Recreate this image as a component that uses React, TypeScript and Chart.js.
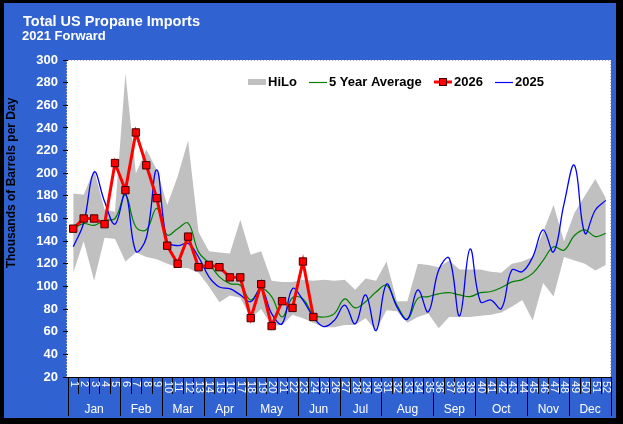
import React, { useEffect, useRef } from 'react';
import { Chart, registerables } from 'chart.js';

Chart.register(...registerables);

// Week numbers along the category axis
const WEEKS = [
  '1', '2', '3', '4', '5', '6', '7', '8', '9', '10', '11', '12', '13',
  '14', '15', '16', '17', '18', '19', '20', '21', '22', '23', '24', '25', '26',
  '27', '28', '29', '30', '31', '32', '33', '34', '35', '36', '37', '38', '39',
  '40', '41', '42', '43', '44', '45', '46', '47', '48', '49', '50', '51', '52',
];

// Month groups beneath the week numbers
const MONTHS = ['Jan', 'Feb', 'Mar', 'Apr', 'May', 'Jun', 'Jul', 'Aug', 'Sep', 'Oct', 'Nov', 'Dec'];
const WEEKS_PER_MONTH = [5, 4, 4, 4, 5, 4, 4, 5, 4, 5, 4, 4];

// Y axis range (thousands of barrels per day)
const Y_MIN = 20;
const Y_MAX = 300;
const Y_STEP = 20;

// 2021-forward weekly high / low range
const HILO_HIGH = [
  182, 181, 203, 168, 166, 288, 200, 221, 203, 172, 197, 229,
  148, 131, 130, 129, 159, 128, 131, 105, 104, 104, 106, 105,
  106, 105, 106, 97, 107, 105, 122, 87, 87, 120, 119, 117,
  123, 115, 115, 115, 113, 112, 120, 122, 126, 148, 172, 140,
  165, 180, 195, 178,
];
const HILO_LOW = [
  112, 140, 105, 143, 142, 122, 130, 126, 124, 120, 117, 116,
  112, 100, 86, 92, 90, 72, 80, 65, 66, 75, 72, 68,
  64, 64, 66, 66, 72, 61, 79, 78, 68, 73, 76, 63,
  73, 73, 73, 74, 75, 77, 82, 88, 70, 103, 91, 126,
  123, 120, 114, 119,
];

// 5 year weekly average
const AVG_5YR = [
  151, 155.5, 154, 158.5, 160, 180.5, 152.5, 150, 169, 145.5, 151, 156,
  130.5, 120.5, 108.5, 102.5, 101, 88, 98, 91, 73, 90, 89, 75,
  73, 76, 89, 81, 86.5, 95, 101, 83.5, 71, 89.5, 91, 93.5,
  94.5, 92.5, 91, 94.5, 95.5, 99, 104, 106, 111.5, 123, 135, 132,
  145, 150, 144, 147,
];

// 2026 weekly imports (year to date)
const IMPORTS_2026 = [
  151, 160, 160, 155, 209, 185, 236, 207, 178, 136, 120, 144,
  117, 119, 117, 108, 108, 72, 102, 65, 87, 81, 122, 73,
];

// 2025 weekly imports
const IMPORTS_2025 = [
  135, 156, 201, 175, 155, 182, 131, 143, 203, 140, 136, 138,
  126, 108.5, 99.5, 98, 92.5, 86.5, 98, 76, 67, 98, 88, 73,
  64.5, 70, 83.5, 67, 92.5, 61, 102, 82, 71, 97, 77.5, 114.5,
  125, 74, 133, 86.5, 88, 80.5, 114.5, 113, 126, 150, 130.5, 173,
  207, 147, 167.5, 176,
];

const FONT = '"Liberation Sans", Arial, Helvetica, sans-serif';
const PANEL_BLUE = 'rgb(48, 98, 210)';
const HILO_GREY = 'rgb(192, 192, 192)';
const AVG_GREEN = '#008000';
const RED = '#FF0000';
const BLUE = '#0000FF';

const W = 623;
const H = 424;

const panelPlugin = {
  id: 'panel',
  beforeDraw(chart: any) {
    const { ctx, chartArea: a } = chart;
    ctx.save();
    ctx.fillStyle = '#000';
    ctx.fillRect(0, 0, W, H);
    ctx.fillStyle = PANEL_BLUE;
    ctx.fillRect(4, 3, 612, 415);
    ctx.fillStyle = '#fff';
    ctx.fillRect(a.left - 1, a.top, a.right - a.left + 1, a.bottom - a.top);
    // faint dotted frame of the plot area
    ctx.strokeStyle = '#c8b6c8';
    ctx.lineWidth = 1;
    ctx.setLineDash([1, 2]);
    ctx.beginPath();
    ctx.moveTo(a.left - 1.5, a.bottom);
    ctx.lineTo(a.left - 1.5, a.top + 0.5);
    ctx.lineTo(a.right - 0.5, a.top + 0.5);
    ctx.lineTo(a.right - 0.5, a.bottom);
    ctx.stroke();
    ctx.restore();
  },
  afterDraw(chart: any) {
    const { ctx, chartArea: a } = chart;
    const xs = chart.scales.x;
    ctx.save();

    // Titles
    ctx.fillStyle = '#fff';
    ctx.textAlign = 'left';
    ctx.textBaseline = 'alphabetic';
    ctx.font = `bold 14.5px ${FONT}`;
    ctx.fillText('Total US Propane Imports', 23, 26);
    ctx.font = `bold 13px ${FONT}`;
    ctx.fillText('2021 Forward', 22, 40);

    // Y axis title
    ctx.save();
    ctx.translate(12, 183);
    ctx.rotate(-Math.PI / 2);
    ctx.fillStyle = '#000';
    ctx.font = `bold 12px ${FONT}`;
    ctx.textAlign = 'center';
    ctx.textBaseline = 'middle';
    ctx.fillText('Thousands of Barrels per Day', 0, 0);
    ctx.restore();

    // Legend inside the plot
    const ly = 82;
    ctx.font = `bold 13px ${FONT}`;
    ctx.textBaseline = 'middle';
    ctx.fillStyle = '#000';
    ctx.fillStyle = HILO_GREY;
    ctx.fillRect(248, ly - 3, 18, 6);
    ctx.fillStyle = '#000';
    ctx.fillText('HiLo', 268, ly);

    ctx.strokeStyle = AVG_GREEN;
    ctx.lineWidth = 1.2;
    ctx.beginPath();
    ctx.moveTo(309, ly + 0.5);
    ctx.lineTo(327, ly + 0.5);
    ctx.stroke();
    ctx.fillText('5 Year Average', 329, ly);

    ctx.strokeStyle = RED;
    ctx.lineWidth = 3;
    ctx.beginPath();
    ctx.moveTo(434, ly);
    ctx.lineTo(452, ly);
    ctx.stroke();
    ctx.fillStyle = RED;
    ctx.fillRect(440, ly - 3, 6, 6);
    ctx.strokeStyle = '#400000';
    ctx.lineWidth = 1;
    ctx.strokeRect(439.5, ly - 3.5, 7, 7);
    ctx.fillStyle = '#000';
    ctx.fillText('2026', 454, ly);

    ctx.strokeStyle = BLUE;
    ctx.lineWidth = 1.2;
    ctx.beginPath();
    ctx.moveTo(495, ly + 0.5);
    ctx.lineTo(513, ly + 0.5);
    ctx.stroke();
    ctx.fillText('2025', 515, ly);

    // Category axis: week separators, week numbers and month groups
    const n = WEEKS.length;
    const band = (a.right - a.left) / n;
    const monthEdges = new Set<number>([0]);
    let acc = 0;
    WEEKS_PER_MONTH.forEach((w) => {
      acc += w;
      monthEdges.add(acc);
    });
    ctx.strokeStyle = '#000';
    ctx.lineWidth = 1;
    for (let i = 0; i <= n; i++) {
      const x = Math.round(a.left + i * band) + 0.5;
      ctx.beginPath();
      ctx.moveTo(x, a.bottom);
      ctx.lineTo(x, monthEdges.has(i) ? 416 : 394);
      ctx.stroke();
    }

    ctx.fillStyle = '#fff';
    ctx.font = `11px ${FONT}`;
    ctx.textAlign = 'left';
    ctx.textBaseline = 'middle';
    for (let i = 0; i < n; i++) {
      const cx = xs.getPixelForValue(i);
      ctx.save();
      ctx.translate(cx + 0.5, a.bottom + 4);
      ctx.rotate(Math.PI / 2);
      ctx.fillText(WEEKS[i], 0, 0);
      ctx.restore();
    }

    ctx.font = `12px ${FONT}`;
    ctx.textAlign = 'center';
    ctx.textBaseline = 'alphabetic';
    let start = 0;
    MONTHS.forEach((m, k) => {
      const end = start + WEEKS_PER_MONTH[k];
      const cx = a.left + ((start + end) / 2) * band;
      ctx.fillText(m, cx, 413);
      start = end;
    });

    ctx.restore();
  },
};

export default function App() {
  const canvasRef = useRef<HTMLCanvasElement | null>(null);

  useEffect(() => {
    const canvas = canvasRef.current;
    if (!canvas) return;

    const data2026 = WEEKS.map((_, i) => (i < IMPORTS_2026.length ? IMPORTS_2026[i] : null));

    const chart = new Chart(canvas, {
      type: 'line',
      data: {
        labels: WEEKS,
        datasets: [
          {
            label: 'HiLo',
            data: HILO_HIGH,
            borderWidth: 0,
            borderColor: 'rgba(0,0,0,0)',
            backgroundColor: HILO_GREY,
            pointRadius: 0,
            tension: 0,
            fill: '+1',
            order: 4,
          },
          {
            label: 'HiLo low',
            data: HILO_LOW,
            borderWidth: 0,
            borderColor: 'rgba(0,0,0,0)',
            pointRadius: 0,
            tension: 0,
            fill: false,
            order: 5,
          },
          {
            label: '5 Year Average',
            data: AVG_5YR,
            borderColor: AVG_GREEN,
            borderWidth: 1.2,
            pointRadius: 0,
            tension: 0.4,
            fill: false,
            order: 3,
          },
          {
            label: '2026',
            data: data2026,
            borderColor: RED,
            borderWidth: 3,
            pointStyle: 'rect',
            pointRadius: 5.2,
            pointBackgroundColor: RED,
            pointBorderColor: '#400000',
            pointBorderWidth: 1,
            tension: 0,
            spanGaps: false,
            fill: false,
            order: 0,
          },
          {
            label: '2025',
            data: IMPORTS_2025,
            borderColor: BLUE,
            borderWidth: 1.3,
            pointRadius: 0,
            tension: 0.4,
            fill: false,
            order: 1,
          },
        ],
      },
      options: {
        responsive: false,
        animation: false,
        devicePixelRatio: 1,
        layout: { padding: { top: 60, right: 12, bottom: 0, left: 0 } },
        scales: {
          x: {
            type: 'category',
            offset: true,
            ticks: { display: false },
            grid: { display: false },
            border: { display: true, color: '#000', width: 1 },
            afterFit: (s: any) => {
              s.height = 47;
            },
          },
          y: {
            min: Y_MIN,
            max: Y_MAX,
            ticks: {
              stepSize: Y_STEP,
              color: '#fff',
              font: { family: FONT, size: 13, weight: 'bold' },
              padding: 5,
            },
            grid: { drawOnChartArea: false, tickLength: 5, color: '#000' },
            border: { display: false },
            afterFit: (s: any) => {
              s.width = 68;
            },
          },
        },
        plugins: {
          legend: { display: false },
          tooltip: { enabled: false },
          filler: { propagate: false },
        },
      },
      plugins: [panelPlugin],
    } as any);

    return () => chart.destroy();
  }, []);

  return (
    <div style={{ position: 'fixed', left: 0, top: 0, width: W, height: H }}>
      <canvas ref={canvasRef} width={W} height={H} style={{ display: 'block', width: W, height: H }} />
    </div>
  );
}
